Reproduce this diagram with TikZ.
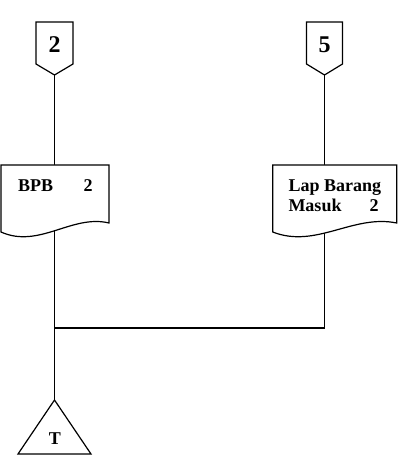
\documentclass[tikz,border=0pt]{standalone}
\usepackage{fontspec}
\setmainfont{Liberation Serif}
\begin{document}
\begin{tikzpicture}[x=1pt,y=-1pt,
  outline/.style={draw=black,line width=1.2pt,fill=white,line join=miter},
  link/.style={draw=black,line width=1.2pt},
  doctext/.style={font=\bfseries\fontsize{18}{20}\selectfont,inner sep=0pt},
  context/.style={font=\bfseries\fontsize{24}{26}\selectfont,inner sep=0pt}]
\useasboundingbox (0,0) rectangle (402,462);
% named points
\coordinate (c2) at (54.5,75);
\coordinate (c5) at (324.5,75);
\coordinate (bpb) at (54.5,200);
\coordinate (lap) at (324.5,200);
\coordinate (junc) at (54.5,328);
\coordinate (jr) at (324.5,328);
\coordinate (term) at (54.5,400);
% connectors (drawn under the shapes)
\draw[link] (c2) -- (bpb);
\draw[link] (c5) -- (lap);
\draw[link] (bpb) -- (junc) -- (term);
\draw[link] (lap) -- (jr) -- (junc);
% off-page connectors
\draw[outline] (36,22) -- (73,22) -- (73,64) -- (c2) -- (36,64) -- cycle;
\node[context,anchor=base] (n2) at (54.5,52.3) {2};
\draw[outline] (306.5,22) -- (342.5,22) -- (342.5,64) -- (c5) -- (306.5,64) -- cycle;
\node[context,anchor=base] (n5) at (324.5,52.3) {5};
% documents
\draw[outline] (1,165) -- (109,165) -- (109,223)
  .. controls (72,214) and (39,249) .. (1,232) -- cycle;
\node[doctext,anchor=base west] (tbpb) at (18,191.7) {BPB};
\node[doctext,anchor=base west] (tbpb2) at (83.5,191.7) {2};
\draw[outline] (272.7,165) -- (396.7,165) -- (396.7,223)
  .. controls (353,214) and (316,249) .. (272.7,232) -- cycle;
\node[doctext,anchor=base west] (tlap1) at (288.3,191.7) {Lap Barang};
\node[doctext,anchor=base west] (tlap2) at (288.3,211.7) {Masuk};
\node[doctext,anchor=base west] (tlap3) at (369.5,211.7) {2};
% terminal triangle
\draw[outline] (term) -- (91,454) -- (18,454) -- cycle;
\node[doctext,anchor=base] (tT) at (55,444) {T};
\end{tikzpicture}
\end{document}
